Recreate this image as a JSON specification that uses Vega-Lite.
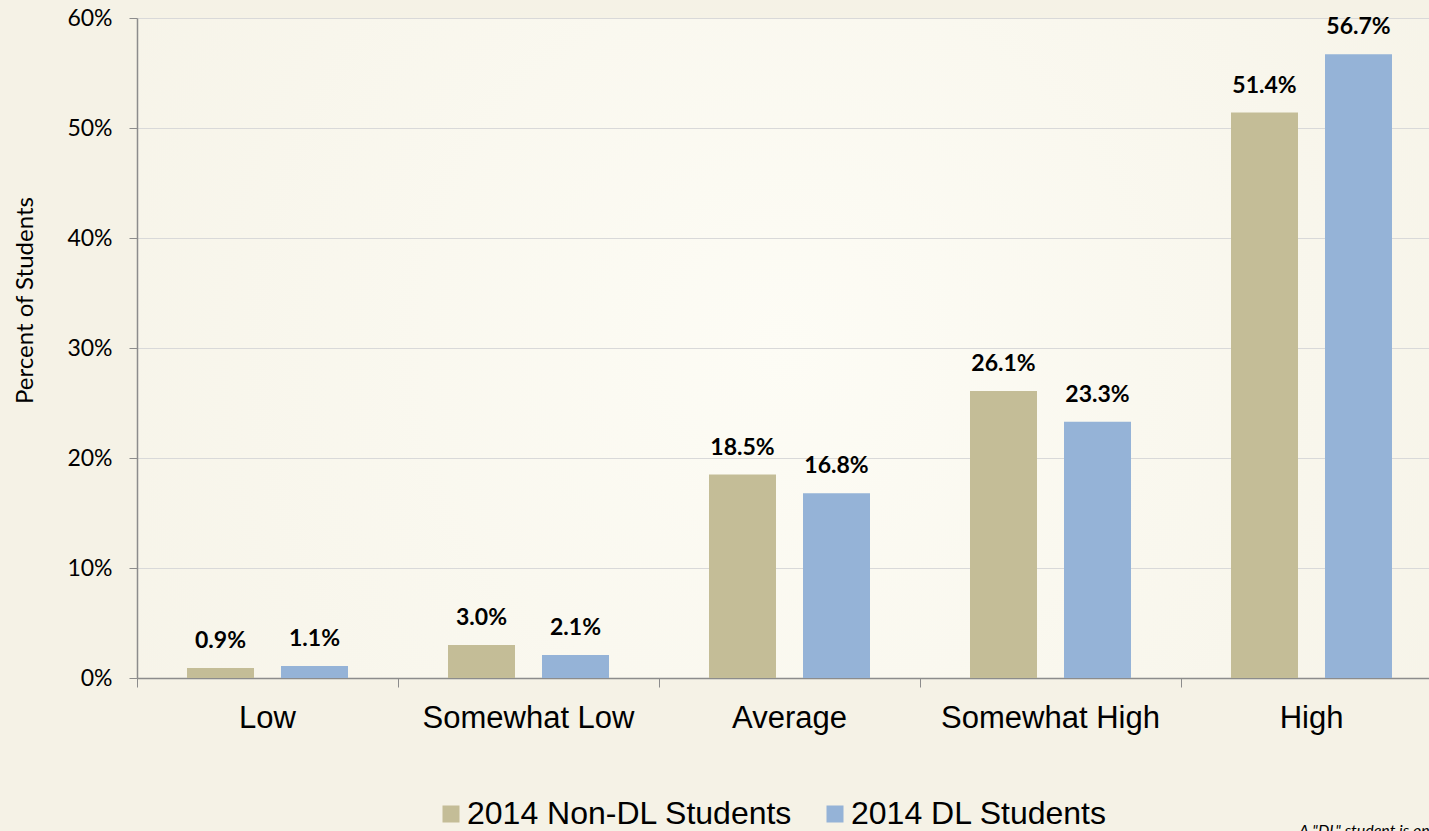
{
  "$schema": "https://vega.github.io/schema/vega-lite/v6.json",
  "width": 1292,
  "height": 660,
  "autosize": {"type": "none"},
  "padding": {"left": 137, "top": 18, "right": 0, "bottom": 153},
  "background": "#f5f2e6",
  "config": {
    "view": {
      "stroke": null,
      "fill": {
        "gradient": "radial",
        "x1": 0.5, "y1": 0.5, "r1": 0,
        "x2": 0.5, "y2": 0.5, "r2": 0.7,
        "stops": [
          {"offset": 0, "color": "#fdfcf5"},
          {"offset": 1, "color": "#f5f2e6"}
        ]
      }
    }
  },
  "title": {
    "text": "A \"DL\" student is one",
    "orient": "bottom",
    "anchor": "start",
    "frame": "group",
    "dx": 1162,
    "dy": -11,
    "font": "Lato",
    "fontStyle": "italic",
    "fontWeight": "normal",
    "fontSize": 16,
    "color": "#000000"
  },
  "data": {
    "values": [
      {"category": "Low", "group": "2014 Non-DL Students", "value": 0.009},
      {"category": "Low", "group": "2014 DL Students", "value": 0.011},
      {"category": "Somewhat Low", "group": "2014 Non-DL Students", "value": 0.030},
      {"category": "Somewhat Low", "group": "2014 DL Students", "value": 0.021},
      {"category": "Average", "group": "2014 Non-DL Students", "value": 0.185},
      {"category": "Average", "group": "2014 DL Students", "value": 0.168},
      {"category": "Somewhat High", "group": "2014 Non-DL Students", "value": 0.261},
      {"category": "Somewhat High", "group": "2014 DL Students", "value": 0.233},
      {"category": "High", "group": "2014 Non-DL Students", "value": 0.514},
      {"category": "High", "group": "2014 DL Students", "value": 0.567}
    ]
  },
  "encoding": {
    "x": {
      "field": "category",
      "type": "nominal",
      "sort": ["Low", "Somewhat Low", "Average", "Somewhat High", "High"],
      "scale": {"range": [0, 1305], "paddingInner": 0, "paddingOuter": 0},
      "axis": {
        "title": null,
        "labelAngle": 0,
        "labelFont": "Liberation Sans",
        "labelFontSize": 31,
        "labelColor": "#000000",
        "labelBaseline": "alphabetic",
        "labelPadding": 40,
        "labelLimit": 0,
        "tickSize": 9,
        "bandPosition": 0,
        "tickColor": "#8c8c8c",
        "domainColor": "#8c8c8c",
        "domainWidth": 1.5,
        "grid": false
      }
    },
    "xOffset": {
      "field": "group",
      "type": "nominal",
      "sort": ["2014 Non-DL Students", "2014 DL Students"],
      "scale": {"paddingInner": 0.2872, "paddingOuter": 0.532}
    },
    "y": {
      "field": "value",
      "type": "quantitative",
      "scale": {"domain": [0, 0.6]},
      "axis": {
        "title": "Percent of Students",
        "titleFont": "Lato",
        "titleFontSize": 24,
        "titleFontWeight": "normal",
        "titleColor": "#000000",
        "titleAngle": -90,
        "titleX": -105,
        "titleY": 282,
        "titleAlign": "center",
        "titleBaseline": "alphabetic",
        "values": [0, 0.1, 0.2, 0.3, 0.4, 0.5, 0.6],
        "format": ".0%",
        "labelFont": "Lato",
        "labelFontSize": 23,
        "labelColor": "#000000",
        "labelPadding": 17,
        "tickSize": 8,
        "tickColor": "#8c8c8c",
        "domainColor": "#8c8c8c",
        "domainWidth": 1.5,
        "grid": true,
        "gridColor": "#d9d9d9",
        "gridWidth": 1.2
      }
    }
  },
  "layer": [
    {
      "mark": {"type": "bar"},
      "encoding": {
        "color": {
          "field": "group",
          "type": "nominal",
          "sort": ["2014 Non-DL Students", "2014 DL Students"],
          "scale": {
            "domain": ["2014 Non-DL Students", "2014 DL Students"],
            "range": ["#c4bd97", "#95b3d7"]
          },
          "legend": {
            "orient": "none",
            "legendX": 298,
            "legendY": 780,
            "direction": "horizontal",
            "title": null,
            "padding": 0,
            "symbolType": "square",
            "symbolSize": 289,
            "symbolStrokeWidth": 0,
            "labelFont": "Liberation Sans",
            "labelFontSize": 32,
            "labelColor": "#000000",
            "labelOffset": 0,
            "labelLimit": 0,
            "columnPadding": 26
          }
        }
      }
    },
    {
      "mark": {
        "type": "text",
        "baseline": "alphabetic",
        "dy": -20,
        "font": "Lato",
        "fontWeight": "bold",
        "fontSize": 23,
        "color": "#000000"
      },
      "encoding": {
        "text": {"field": "value", "type": "quantitative", "format": ".1%"}
      }
    }
  ]
}
